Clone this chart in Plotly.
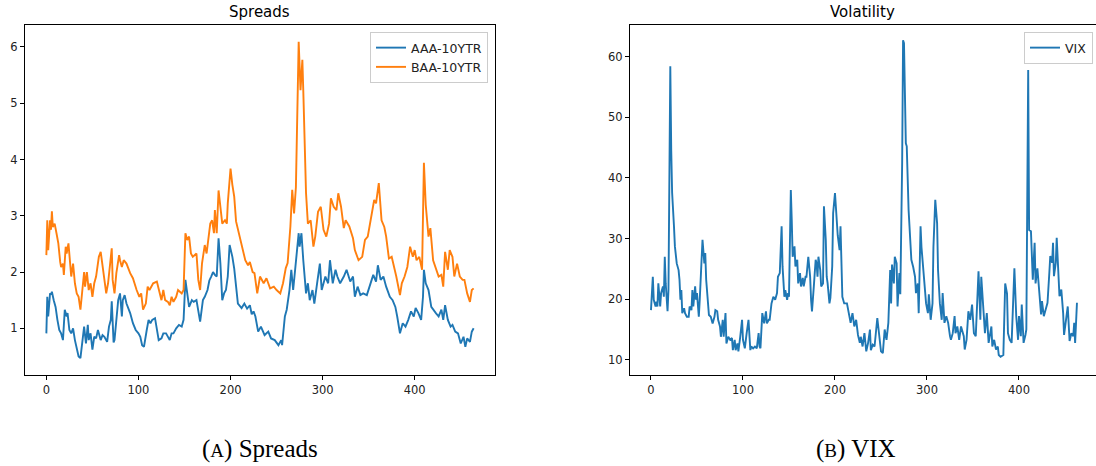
import plotly.graph_objects as go

# ---------------- data ----------------
baa_x = [0,1,2,4,5,6,7,9,11,13,15,16,18,19,21,22,24,25,27,29,31,33,35,37,39,41,42,44,46,48,50,52,54,57,59,61,63,65,67,69,71,72,74,76,79,80,82,84,87,91,94,98,101,103,105,108,110,112,116,120,122,125,127,129,132,134,136,138,141,143,147,149,151,153,155,157,159,163,165,167,169,172,174,176,178,180,182,183,185,187,190,191,194,196,197,200,202,204,206,209,211,214,216,219,221,224,226,229,232,236,239,243,247,250,254,257,260,262,265,267,269,271,274,276,278,279,282,284,287,290,292,295,298,301,304,307,309,312,315,317,320,323,325,329,331,333,335,339,343,346,349,352,356,358,361,364,367,369,372,375,378,380,384,386,389,392,395,398,400,402,405,408,410,412,415,417,420,424,426,429,431,433,436,438,441,443,446,449,452,454,457,460,462,464]
baa_y = [2.30,2.92,2.39,2.92,2.75,3.08,2.80,2.86,2.69,2.51,2.18,2.09,2.15,1.95,2.45,2.33,2.51,2.27,1.92,2.15,1.80,1.62,1.56,1.33,1.68,2.00,1.74,2.00,1.68,1.80,1.56,1.80,1.92,2.27,2.36,2.09,1.86,1.62,1.80,2.09,2.42,1.86,1.62,1.98,2.30,2.21,2.09,2.21,2.15,1.98,1.89,1.68,1.56,1.62,1.33,1.44,1.74,1.68,1.80,1.83,1.68,1.50,1.68,1.50,1.47,1.41,1.56,1.47,1.56,1.68,1.62,1.68,2.69,2.57,2.63,2.33,2.27,2.33,1.86,1.68,2.15,2.48,2.33,2.57,2.86,2.92,2.69,3.10,2.69,3.45,3.00,2.86,2.92,2.86,3.22,3.84,3.55,3.34,2.90,2.69,2.55,2.39,2.21,2.12,2.18,2.00,1.98,1.62,1.92,1.80,1.89,1.71,1.74,1.68,1.62,1.80,2.07,2.16,2.81,3.46,3.04,3.51,6.09,5.23,5.77,5.23,3.40,2.86,2.92,2.45,2.63,3.07,3.16,2.75,2.63,2.86,3.31,3.16,3.10,3.40,3.16,2.78,2.92,2.81,2.70,2.60,2.39,2.21,2.27,2.57,2.63,2.92,3.28,3.22,3.58,2.92,2.80,2.63,2.24,2.27,2.09,1.92,1.59,1.80,1.92,2.09,2.45,2.27,2.39,2.21,2.27,2.04,3.94,3.19,2.63,2.78,2.21,2.04,1.92,1.95,1.74,2.36,2.04,2.39,2.27,1.92,2.15,1.92,1.86,1.86,1.62,1.47,1.68,1.71]

aaa_x = [0,1,2,4,5,6,8,10,12,14,16,18,20,22,23,25,27,29,31,33,35,37,39,41,43,45,46,48,50,52,54,56,59,61,63,66,68,70,71,73,74,76,78,80,82,83,85,87,89,91,94,97,100,102,104,106,109,111,113,115,118,120,122,125,127,130,132,134,136,138,141,144,147,149,151,153,155,158,160,163,165,167,170,172,175,177,179,181,183,185,187,189,191,193,195,197,199,202,204,206,208,212,215,218,221,223,225,227,230,233,237,241,244,248,252,255,256,259,261,264,266,268,270,272,274,275,277,279,282,284,286,289,291,294,297,299,303,306,308,311,314,316,319,323,326,330,333,335,338,341,344,348,351,355,358,360,363,366,369,373,376,379,381,384,387,390,393,396,399,401,404,407,409,410,412,415,418,420,423,426,429,431,433,436,439,441,444,447,450,453,455,457,460,462,464]
aaa_y = [0.91,1.56,1.21,1.62,1.60,1.65,1.50,1.38,1.15,0.97,0.91,0.79,1.33,1.21,1.27,0.97,0.91,1.00,0.79,0.67,0.50,0.47,0.79,1.03,0.73,1.06,0.79,0.91,0.62,0.85,0.82,0.97,0.79,0.88,0.85,0.76,1.03,1.15,1.48,0.75,0.79,1.21,1.50,1.62,1.21,1.50,1.59,1.44,1.36,1.27,1.09,0.97,0.91,0.85,0.70,0.67,0.97,1.15,1.09,1.15,1.18,0.97,0.79,0.82,0.91,0.91,0.85,0.79,0.91,0.91,1.00,1.06,1.03,1.15,1.86,1.56,1.38,1.50,1.47,1.50,1.33,1.12,1.50,1.56,1.68,1.85,1.92,2.00,1.95,1.92,2.60,2.15,1.50,1.62,1.68,1.92,2.48,2.27,2.06,1.74,1.44,1.36,1.44,1.35,1.41,1.25,1.30,1.21,0.94,1.03,0.88,0.94,0.82,0.79,0.70,0.79,0.70,1.21,1.33,1.68,2.04,1.68,2.04,2.45,2.69,2.45,2.69,2.21,1.62,1.80,1.50,1.68,1.44,1.80,2.15,1.68,1.92,1.80,2.21,1.80,2.04,1.92,1.80,1.92,2.04,1.83,1.92,1.56,1.74,1.59,1.62,1.59,1.74,1.95,1.83,2.12,1.86,1.92,1.74,1.56,1.50,1.38,1.21,0.91,1.09,1.03,1.15,1.30,1.21,1.36,1.27,1.15,1.56,2.04,1.80,1.68,1.38,1.33,1.27,1.21,1.33,1.15,1.41,1.15,1.03,1.06,0.94,0.91,0.73,0.85,0.67,0.82,0.76,0.94,1.00]

vix_x = [0,2,3,5,6,7,8,10,11,13,14,15,16,18,19,21,22,23,25,26,28,30,31,32,33,34,36,37,39,41,42,44,45,46,48,49,50,52,53,55,56,58,59,60,62,63,65,67,69,70,72,73,75,76,78,79,81,82,84,86,88,89,91,92,94,95,97,99,100,102,104,106,108,109,111,113,115,117,118,119,121,123,125,126,128,129,131,133,135,137,138,140,142,143,145,146,148,149,150,152,153,154,156,157,159,160,162,163,165,166,168,169,171,173,174,175,177,179,180,181,182,184,185,187,188,190,191,192,194,195,197,198,200,202,203,205,206,208,210,213,215,217,219,221,223,225,227,228,230,232,234,236,238,239,241,243,246,248,250,252,254,256,258,260,261,262,264,265,267,268,270,271,273,274,275,277,278,280,283,285,287,288,290,291,293,294,296,298,299,301,302,304,306,307,309,311,312,314,316,317,319,321,323,325,326,328,330,331,333,335,337,340,341,343,345,347,349,351,353,356,358,359,361,363,365,367,370,371,373,375,377,378,380,383,385,387,388,390,392,394,395,397,399,400,402,403,405,407,408,410,411,413,415,417,418,420,422,424,425,427,429,431,433,434,436,437,438,440,441,443,444,446,448,449,451,453,455,457,459,460,461,463]
vix_y = [18.2,23.7,19.9,18.8,19.6,18.8,22.6,18.8,21.0,22.1,20.4,27.0,22.6,18.0,21.5,58.4,44.6,37.5,32.0,28.7,25.9,24.8,23.2,19.9,21.5,17.7,18.5,17.7,17.1,17.1,18.8,18.2,21.5,18.8,22.1,19.9,21.0,17.1,19.9,28.1,29.8,25.9,27.6,23.2,18.2,17.4,17.1,16.0,17.1,18.2,18.0,16.6,15.5,13.8,16.6,13.8,17.7,12.7,13.8,13.3,13.6,11.6,13.3,11.6,12.7,11.4,13.8,16.6,13.3,11.9,14.4,16.6,11.6,12.2,11.9,12.2,11.9,14.4,12.2,11.9,17.7,16.0,18.0,16.0,16.6,16.6,19.3,20.4,19.9,21.0,23.7,24.3,32.0,25.4,20.4,21.5,19.9,21.0,20.4,38.0,33.1,27.0,28.7,25.4,26.5,22.6,24.3,22.1,23.5,22.1,23.7,23.7,27.0,23.7,19.9,18.0,22.1,26.5,25.9,23.7,27.0,24.8,22.1,22.6,35.3,29.8,23.7,22.6,19.3,20.2,25.4,34.2,37.5,32.0,30.5,28.1,32.0,20.4,19.3,19.3,17.7,16.1,17.7,15.5,16.6,14.1,12.8,13.8,12.2,14.4,11.4,12.8,15.0,11.6,12.5,12.2,16.9,13.6,11.4,11.1,15.0,13.3,16.1,24.8,19.3,25.7,22.6,27.0,25.9,18.8,24.3,20.8,42.4,62.7,62.2,45.7,45.2,34.7,26.5,25.3,23.7,21.0,22.6,17.7,32.0,28.6,24.8,21.0,19.3,17.7,20.8,16.6,19.3,28.6,36.4,32.5,24.8,19.3,16.6,21.0,16.1,17.2,16.1,13.9,13.3,14.4,17.2,14.4,15.5,13.3,15.5,13.9,11.7,13.3,18.0,16.6,19.1,14.4,13.9,24.6,16.6,23.7,18.3,14.4,17.7,12.8,15.5,12.2,13.3,11.7,12.2,10.8,10.5,10.8,22.6,20.9,14.4,13.3,12.8,19.7,25.1,17.2,13.3,17.2,13.9,19.1,12.8,14.1,15.0,57.8,31.4,31.2,23.2,29.3,22.6,25.1,21.4,17.5,19.7,17.2,18.3,19.4,24.4,27.1,26.0,29.3,23.8,26.0,30.1,23.8,20.5,21.6,17.7,14.1,16.1,18.8,13.1,14.4,13.9,16.1,12.8,19.4]

x_ticks = [0, 100, 200, 300, 400]
left_y_ticks = [1, 2, 3, 4, 5, 6]
right_y_ticks = [10, 20, 30, 40, 50, 60]

# ---------------- figure ----------------
W, H = 1096, 466
BLUE, ORANGE = "#1f77b4", "#ff7f0e"
FONT = "DejaVu Sans"

fig = go.Figure()
fig.add_trace(go.Scatter(x=aaa_x, y=aaa_y, mode="lines", name="AAA-10YTR",
                         line=dict(color=BLUE, width=1.9), xaxis="x", yaxis="y", legend="legend"))
fig.add_trace(go.Scatter(x=baa_x, y=baa_y, mode="lines", name="BAA-10YTR",
                         line=dict(color=ORANGE, width=1.9), xaxis="x", yaxis="y", legend="legend"))
fig.add_trace(go.Scatter(x=vix_x, y=vix_y, mode="lines", name="VIX",
                         line=dict(color=BLUE, width=1.9), xaxis="x2", yaxis="y2", legend="legend2"))

def px_x(p):
    return p / W

def px_y(p):
    return 1 - p / H

axis_common = dict(showline=True, linecolor="black", linewidth=1, ticks="outside",
                   ticklen=4, tickwidth=1, tickcolor="black", showgrid=False,
                   zeroline=False, tickfont=dict(family=FONT, size=11.5, color="#222222"))

legend_common = dict(bgcolor="rgba(255,255,255,0.8)", bordercolor="#cccccc", borderwidth=1,
                     font=dict(family=FONT, size=12.5, color="#222222"), itemwidth=30,
                     tracegroupgap=0)

fig.update_layout(
    width=W, height=H,
    margin=dict(l=0, r=0, t=0, b=0),
    paper_bgcolor="white", plot_bgcolor="white",
    font=dict(family=FONT, color="black"),
    xaxis=dict(domain=[px_x(25), px_x(495)], range=[-23.2, 487.2], tickvals=x_ticks,
               mirror=True, anchor="y", **axis_common),
    yaxis=dict(domain=[px_y(375), px_y(25)], range=[0.17, 6.39], tickvals=left_y_ticks,
               mirror=True, anchor="x", **axis_common),
    xaxis2=dict(domain=[px_x(630), 1.0], range=[-22.8, 483.7], tickvals=x_ticks,
                mirror=True, anchor="y2", **axis_common),
    yaxis2=dict(domain=[px_y(375), px_y(25)], range=[7.5, 65.2], tickvals=right_y_ticks,
                mirror=False, anchor="x2", **axis_common),
    legend=dict(x=px_x(488), xanchor="right", y=px_y(32), yanchor="top", **legend_common),
    legend2=dict(x=px_x(1093), xanchor="right", y=px_y(32), yanchor="top", **legend_common),
    showlegend=True,
)

annotations = [
    dict(text="Spreads", x=px_x(259), y=px_y(12), xref="paper", yref="paper",
         showarrow=False, font=dict(family=FONT, size=15, color="black"),
         xanchor="center", yanchor="middle"),
    dict(text="Volatility", x=px_x(862), y=px_y(12), xref="paper", yref="paper",
         showarrow=False, font=dict(family=FONT, size=15, color="black"),
         xanchor="center", yanchor="middle"),
    dict(text="(<span style='font-size:19px'>A</span>) Spreads", x=px_x(260), y=px_y(449),
         xref="paper", yref="paper", showarrow=False,
         font=dict(family="Liberation Serif", size=25, color="black"),
         xanchor="center", yanchor="middle"),
    dict(text="(<span style='font-size:19px'>B</span>) VIX", x=px_x(856), y=px_y(449),
         xref="paper", yref="paper", showarrow=False,
         font=dict(family="Liberation Serif", size=25, color="black"),
         xanchor="center", yanchor="middle"),
]
fig.update_layout(annotations=annotations)

fig.write_html(
    "out.html",
    config={"displayModeBar": False},
    post_script="document.body.style.margin='0';document.body.style.padding='0';"
                "document.body.style.overflow='hidden';",
)
